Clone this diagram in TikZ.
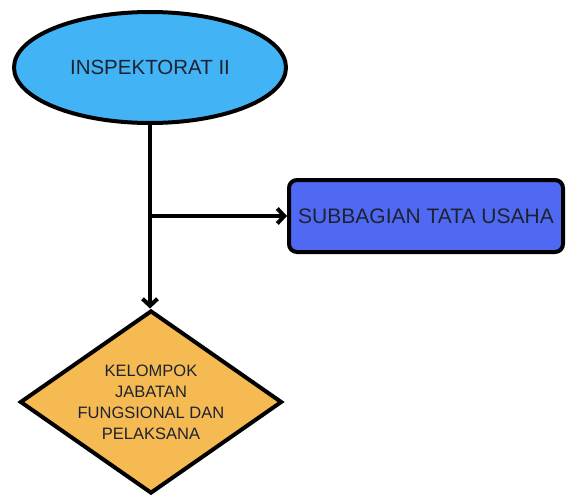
\documentclass[tikz,border=0pt]{standalone}
\usepackage{fontspec}
\setmainfont{Liberation Sans}
\usetikzlibrary{arrows.meta,shapes.geometric,positioning}

\definecolor{birumuda}{HTML}{42B4F5}
\definecolor{birutua}{HTML}{5069F2}
\definecolor{oranye}{HTML}{F6BA52}
\definecolor{teks}{HTML}{1E2230}

\begin{document}
\begin{tikzpicture}[x=1pt,y=-1pt,line width=4pt,
  >={Straight Barb[length=7pt,width=15pt]}]
  \tikzstyle{every node}=[draw=black,line width=4pt,text=teks,align=center]
  \tikzstyle{pimpinan}=[ellipse,fill=birumuda,minimum width=272pt,
    minimum height=111pt,inner sep=0pt,font=\fontsize{20.5}{22}\selectfont]
  \tikzstyle{unit}=[rectangle,rounded corners=8pt,fill=birutua,
    minimum width=274pt,minimum height=72pt,inner sep=0pt,
    font=\fontsize{21}{22}\selectfont]
  \tikzstyle{kelompok}=[diamond,fill=oranye,aspect=1.43,minimum width=262pt,
    minimum height=183pt,inner sep=-8pt,font=\fontsize{16.5}{21}\selectfont]
  \useasboundingbox (0,0) rectangle (566,498);

  \node[pimpinan] (insp) at (150,67.5) {INSPEKTORAT II};
  \node[unit]     (sub)  at (426,216)  {SUBBAGIAN TATA USAHA};
  \node[kelompok] (kel)  at (151,402)
    {KELOMPOK\\JABATAN\\FUNGSIONAL DAN\\PELAKSANA};
  \coordinate (cabang) at (insp.south |- sub.west);

  \path (insp.south) edge[->] (insp.south |- kel.north)
        (cabang) edge[->] (sub.west);
\end{tikzpicture}
\end{document}
